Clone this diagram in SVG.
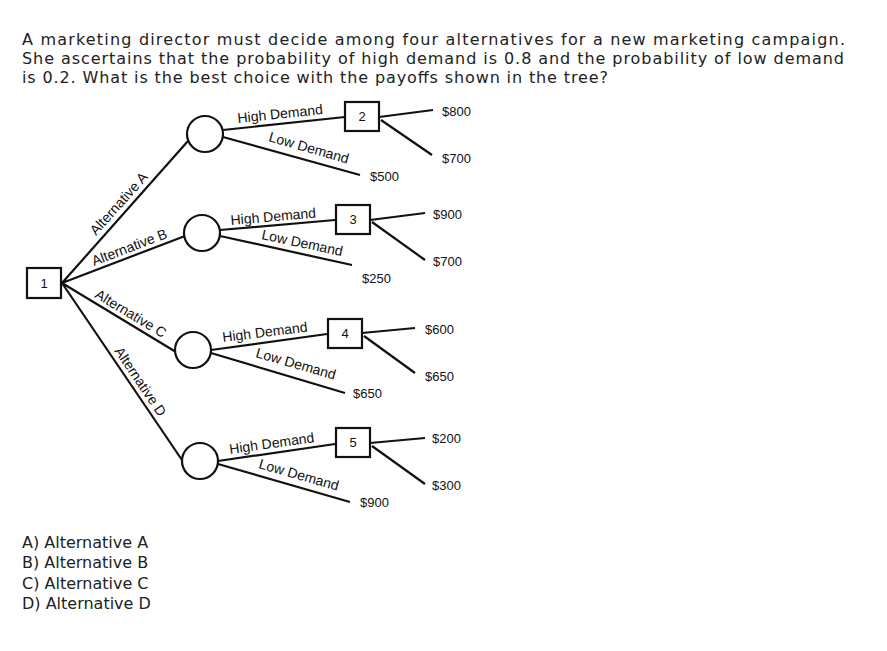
<svg xmlns="http://www.w3.org/2000/svg" width="887" height="651" viewBox="0 0 887 651">
<style>
.q{font-family:"DejaVu Sans",sans-serif;font-size:16px;fill:#222}
.t{font-family:"Liberation Sans",Arial,sans-serif;font-size:14px;fill:#111}
.v{font-family:"Liberation Sans",Arial,sans-serif;font-size:13px;fill:#111}
.l{stroke:#111;stroke-width:2.2;fill:none}
.b{stroke:#111;stroke-width:2.2;fill:#fff}
</style>
<rect width="887" height="651" fill="#fff"/>
<text class="q" x="22" y="45" textLength="823">A marketing director must decide among four alternatives for a new marketing campaign.</text>
<text class="q" x="22" y="64" textLength="822">She ascertains that the probability of high demand is 0.8 and the probability of low demand</text>
<text class="q" x="22" y="83" textLength="586">is 0.2. What is the best choice with the payoffs shown in the tree?</text>
<g id="connectors">
<path class="l" d="M62 283L188 141M62 283L185 236M62 283L176 352M62 283L184 463"/>
<path class="l" d="M223 130L345 117M223 137L360 175M379 117L433 110M381 120L432 155"/>
<path class="l" d="M220 230L335 220M220 236L352 265M370 220L425 213M372 222L425 260"/>
<path class="l" d="M211 350L327 334M211 353L345 393M362 333L415 328M364 336L415 373"/>
<path class="l" d="M218 461L335 444M218 464L350 502M370 443L425 438M372 446L425 484"/>
</g>
<g id="labels">
<text class="t" transform="translate(96,236) rotate(-48)">Alternative A</text>
<text class="t" transform="translate(94,266) rotate(-21)">Alternative B</text>
<text class="t" transform="translate(94,297) rotate(31)">Alternative C</text>
<text class="t" transform="translate(114,351) rotate(56)">Alternative D</text>
<text class="t" transform="translate(238,123) rotate(-6)">High Demand</text>
<text class="t" transform="translate(268,141) rotate(16)">Low Demand</text>
<text class="t" transform="translate(231,225) rotate(-5)">High Demand</text>
<text class="t" transform="translate(261,239) rotate(12)">Low Demand</text>
<text class="t" transform="translate(223,342) rotate(-7)">High Demand</text>
<text class="t" transform="translate(255,357) rotate(16)">Low Demand</text>
<text class="t" transform="translate(230,454) rotate(-8)">High Demand</text>
<text class="t" transform="translate(258,468) rotate(16)">Low Demand</text>
<text class="v" x="442" y="116">$800</text><text class="v" x="442" y="163">$700</text><text class="v" x="370" y="181">$500</text>
<text class="v" x="433" y="219">$900</text><text class="v" x="433" y="266">$700</text><text class="v" x="362" y="283">$250</text>
<text class="v" x="425" y="334">$600</text><text class="v" x="425" y="381">$650</text><text class="v" x="353" y="398">$650</text>
<text class="v" x="432" y="443">$200</text><text class="v" x="432" y="490">$300</text><text class="v" x="360" y="507">$900</text>
</g>
<g id="n1"><rect class="b" x="27" y="268" width="34" height="30"/><text class="v" x="44" y="288" text-anchor="middle">1</text></g>
<g id="cA"><circle class="b" cx="205" cy="134" r="18"/></g>
<g id="cB"><circle class="b" cx="202" cy="233" r="18"/></g>
<g id="cC"><circle class="b" cx="193" cy="350" r="18"/></g>
<g id="cD"><circle class="b" cx="200" cy="461" r="18"/></g>
<g id="n2"><rect class="b" x="345" y="102" width="34" height="29"/><text class="v" x="362" y="121" text-anchor="middle">2</text></g>
<g id="n3"><rect class="b" x="336" y="205" width="34" height="29"/><text class="v" x="353" y="224" text-anchor="middle">3</text></g>
<g id="n4"><rect class="b" x="328" y="319" width="34" height="29"/><text class="v" x="345" y="338" text-anchor="middle">4</text></g>
<g id="n5"><rect class="b" x="336" y="428" width="34" height="29"/><text class="v" x="353" y="447" text-anchor="middle">5</text></g>
<g id="answers">
<text class="q" x="22" y="548">A) Alternative A</text>
<text class="q" x="22" y="568">B) Alternative B</text>
<text class="q" x="22" y="589">C) Alternative C</text>
<text class="q" x="22" y="609">D) Alternative D</text>
</g>
</svg>
